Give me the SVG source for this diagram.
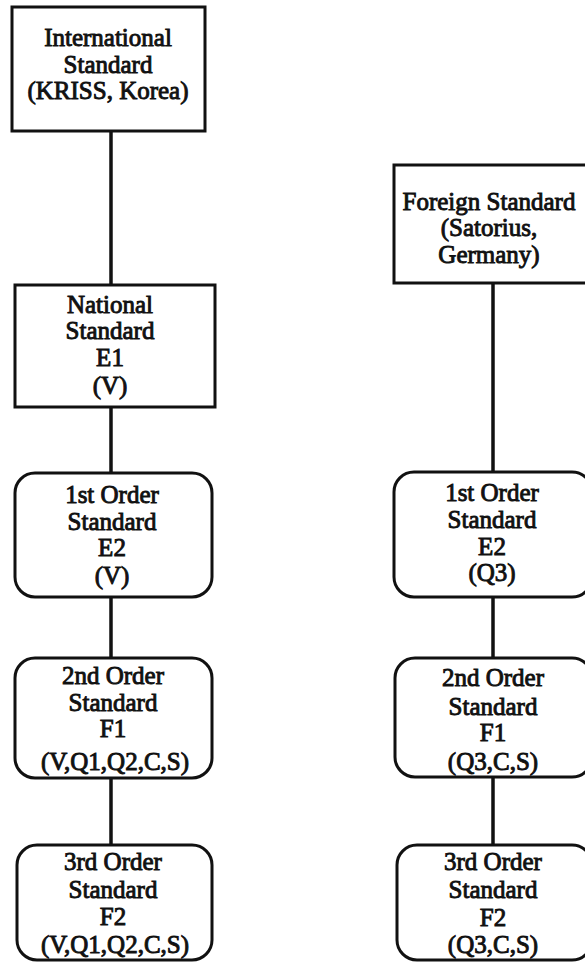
<svg xmlns="http://www.w3.org/2000/svg" width="585" height="962" viewBox="0 0 585 962">
  <style>
    .box { fill: #ffffff; stroke: #111111; stroke-width: 3; }
    .link { stroke: #111111; stroke-width: 3.5; fill: none; }
    text { font-family: "Liberation Serif", "Times New Roman", serif; font-size: 25px; fill: #111111; stroke: #111111; stroke-width: 0.9; text-anchor: middle; }
  </style>
  <rect width="585" height="962" fill="#ffffff"/>

  <!-- connectors -->
  <g id="connectors">
    <line class="link" x1="111" y1="131" x2="111" y2="285"/>
    <line class="link" x1="111" y1="407" x2="111" y2="473"/>
    <line class="link" x1="111" y1="597" x2="111" y2="658"/>
    <line class="link" x1="111" y1="778" x2="111" y2="845"/>
    <line class="link" x1="493" y1="283" x2="493" y2="472"/>
    <line class="link" x1="493" y1="597" x2="493" y2="658"/>
    <line class="link" x1="493" y1="777" x2="493" y2="845"/>
  </g>

  <!-- left chain -->
  <g id="international">
    <rect class="box" x="12" y="7" width="193" height="124"/>
    <text x="108" y="46">International</text>
    <text x="108" y="73">Standard</text>
    <text x="108" y="99">(KRISS, Korea)</text>
  </g>
  <g id="national">
    <rect class="box" x="15" y="285" width="200" height="122"/>
    <text x="110" y="313">National</text>
    <text x="110" y="339">Standard</text>
    <text x="110" y="366">E1</text>
    <text x="110" y="394">(V)</text>
  </g>
  <g id="first-left">
    <rect class="box" x="15" y="473" width="197" height="124" rx="20"/>
    <text x="112" y="503">1st Order</text>
    <text x="112" y="530">Standard</text>
    <text x="112" y="556">E2</text>
    <text x="112" y="584">(V)</text>
  </g>
  <g id="second-left">
    <rect class="box" x="15" y="658" width="197" height="120" rx="20"/>
    <text x="113" y="684">2nd Order</text>
    <text x="113" y="711">Standard</text>
    <text x="113" y="737">F1</text>
    <text x="115" y="770">(V,Q1,Q2,C,S)</text>
  </g>
  <g id="third-left">
    <rect class="box" x="17" y="845" width="195" height="115" rx="20"/>
    <text x="113" y="870">3rd Order</text>
    <text x="113" y="898">Standard</text>
    <text x="113" y="925">F2</text>
    <text x="115" y="953">(V,Q1,Q2,C,S)</text>
  </g>

  <!-- right chain -->
  <g id="foreign">
    <rect class="box" x="394" y="165" width="198" height="118"/>
    <text x="489" y="210">Foreign Standard</text>
    <text x="489" y="236">(Satorius,</text>
    <text x="489" y="263">Germany)</text>
  </g>
  <g id="first-right">
    <rect class="box" x="394" y="472" width="198" height="125" rx="20"/>
    <text x="492" y="501">1st Order</text>
    <text x="492" y="528">Standard</text>
    <text x="492" y="555">E2</text>
    <text x="492" y="581">(Q3)</text>
  </g>
  <g id="second-right">
    <rect class="box" x="395" y="658" width="197" height="119" rx="20"/>
    <text x="493" y="686">2nd Order</text>
    <text x="493" y="715">Standard</text>
    <text x="493" y="741">F1</text>
    <text x="493" y="770">(Q3,C,S)</text>
  </g>
  <g id="third-right">
    <rect class="box" x="397" y="845" width="195" height="115" rx="20"/>
    <text x="493" y="870">3rd Order</text>
    <text x="493" y="898">Standard</text>
    <text x="493" y="926">F2</text>
    <text x="493" y="953">(Q3,C,S)</text>
  </g>
</svg>
